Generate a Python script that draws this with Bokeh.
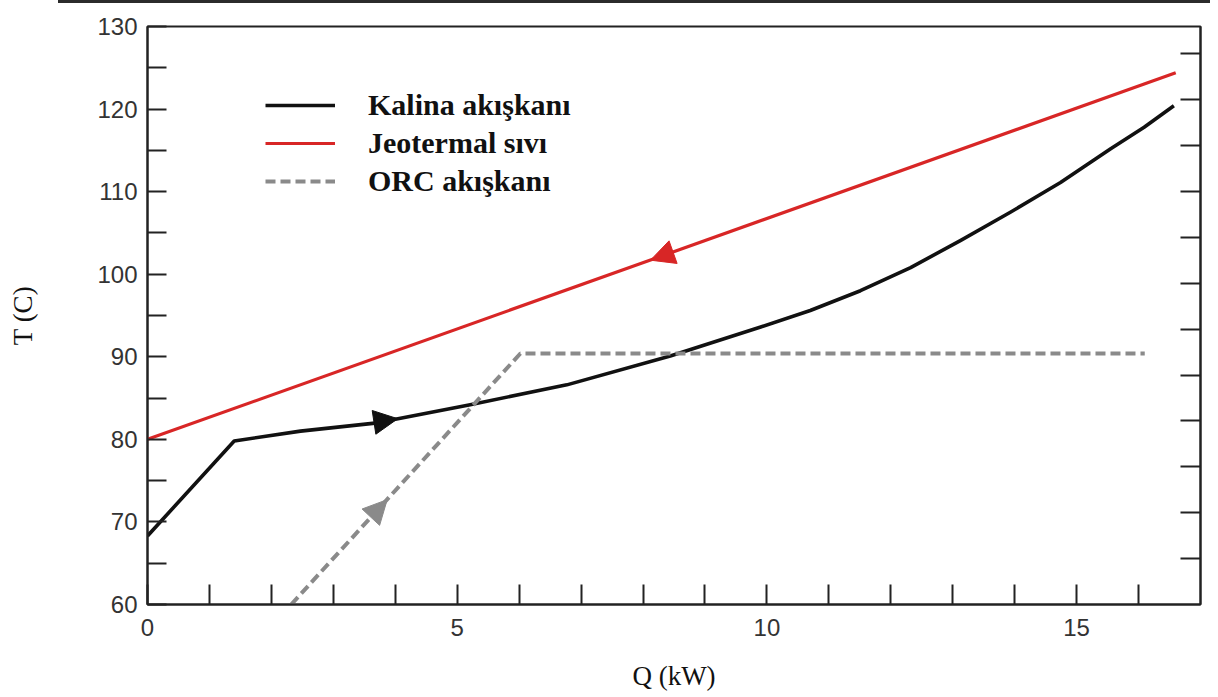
from bokeh.plotting import figure
from bokeh.models import (FixedTicker, LinearAxis, Legend, LegendItem, Arrow,
                          NormalHead, ColumnDataSource, Div, Range1d)
from bokeh.layouts import column
from bokeh.embed import file_html
from bokeh.resources import INLINE

# ---- data ----
kalina_q = [0.0, 1.4, 2.47, 3.71, 5.21, 6.77, 8.44, 9.90, 10.70, 11.51, 12.32, 13.13,
            13.93, 14.74, 15.55, 16.09, 16.57]
kalina_t = [68.3, 79.8, 81.0, 82.0, 84.2, 86.6, 90.1, 93.6, 95.6, 98.0, 100.8, 104.1,
            107.5, 111.1, 115.2, 117.8, 120.4]

jeo_q = [0.0, 16.6]
jeo_t = [80.0, 124.4]

orc_q = [2.32, 6.02, 16.1]
orc_t = [60.0, 90.4, 90.4]

# arrow heads: start -> end (tip)
kalina_arrow = dict(xs=[3.52], ys=[81.9], xe=[4.04], ye=[82.5])
jeo_arrow = dict(xs=[8.72], ys=[103.3], xe=[8.12], ye=[101.7])
orc_arrow = dict(xs=[3.41], ys=[69.0], xe=[3.87], ye=[72.7])

x_major = [0, 5, 10, 15]
x_minor = [1, 2, 3, 4, 6, 7, 8, 9, 11, 12, 13, 14, 16]
y_major = [60, 70, 80, 90, 100, 110, 120, 130]
y_minor = [65, 75, 85, 95, 105, 115, 125]
right_ticks = [65.56, 71.11, 76.67, 82.23, 87.79, 93.34, 98.9, 104.5, 110.0, 115.6, 121.1, 126.7]

series_names = ["Kalina akışkanı", "Jeotermal sıvı", "ORC akışkanı"]
x_title = "Q (kW)"
y_title = "T (C)"

BLACK = "#111111"
RED = "#d82626"
GRAY = "#8a8a8a"
AXIS = "#222222"

p = figure(width=1218, height=693, output_backend="svg", toolbar_location=None,
           x_range=Range1d(0, 17), y_range=Range1d(60, 130),
           min_border_left=147, min_border_right=18, min_border_top=22,
           min_border_bottom=93)
p.background_fill_color = "white"
p.border_fill_color = "white"
p.grid.visible = False
p.outline_line_color = AXIS
p.outline_line_width = 2

r_k = p.line(kalina_q, kalina_t, line_color=BLACK, line_width=3.6, line_join="round")
r_j = p.line(jeo_q, jeo_t, line_color=RED, line_width=3.2)
r_o = p.line(orc_q, orc_t, line_color=GRAY, line_width=4, line_dash="10 5")

for d, col in ((kalina_arrow, BLACK), (jeo_arrow, RED), (orc_arrow, GRAY)):
    src = ColumnDataSource(d)
    p.add_layout(Arrow(x_start="xs", y_start="ys", x_end="xe", y_end="ye", source=src,
                       line_alpha=0,
                       end=NormalHead(size=24, fill_color=col, line_color=col)))

TICK_FONT = "Liberation Sans"
TITLE_FONT = "Liberation Serif"

xa = p.xaxis[0]
xa.ticker = FixedTicker(ticks=x_major, minor_ticks=x_minor)
ya = p.yaxis[0]
ya.ticker = FixedTicker(ticks=y_major, minor_ticks=y_minor)

for ax, tl in ((xa, 20), (ya, 19)):
    ax.major_tick_in = tl
    ax.major_tick_out = 0
    ax.minor_tick_in = tl
    ax.minor_tick_out = 0
    ax.axis_line_width = 2
    ax.axis_line_color = AXIS
    ax.major_tick_line_width = 2
    ax.minor_tick_line_width = 2
    ax.major_tick_line_color = AXIS
    ax.minor_tick_line_color = AXIS
    ax.major_label_text_font = TICK_FONT
    ax.major_label_text_font_size = "24px"
    ax.major_label_text_color = "#333333"
    ax.axis_label_text_font = TITLE_FONT
    ax.axis_label_text_font_size = "27px"
    ax.axis_label_text_font_style = "normal"
    ax.axis_label_text_color = "#111111"

xa.axis_label = x_title
ya.axis_label = y_title
xa.major_label_standoff = 14
xa.axis_label_standoff = 22
ya.major_label_standoff = 10
ya.axis_label_standoff = 56

ra = LinearAxis(ticker=FixedTicker(ticks=right_ticks, minor_ticks=[]))
ra.major_tick_in = 20
ra.major_tick_out = 0
ra.axis_line_width = 2
ra.axis_line_color = AXIS
ra.major_tick_line_width = 2
ra.major_tick_line_color = AXIS
ra.major_label_text_font_size = "0px"
ra.major_label_standoff = 0
p.add_layout(ra, "right")

legend = Legend(items=[LegendItem(label=series_names[0], renderers=[r_k]),
                       LegendItem(label=series_names[1], renderers=[r_j]),
                       LegendItem(label=series_names[2], renderers=[r_o])],
                location=(118, 406), padding=0, margin=0, spacing=4,
                glyph_width=70, glyph_height=20, label_standoff=33,
                border_line_color=None, background_fill_alpha=0,
                label_text_font=TITLE_FONT, label_text_font_size="30px",
                label_text_font_style="bold", label_text_color="#111111")
p.add_layout(legend)

top_line = Div(text="", width=1152, height=3, margin=(0, 0, 1, 58),
               styles={"background-color": "#2b2b2b"})

layout = column(top_line, p, spacing=0)
open("out.html", "w").write(file_html(layout, INLINE))
